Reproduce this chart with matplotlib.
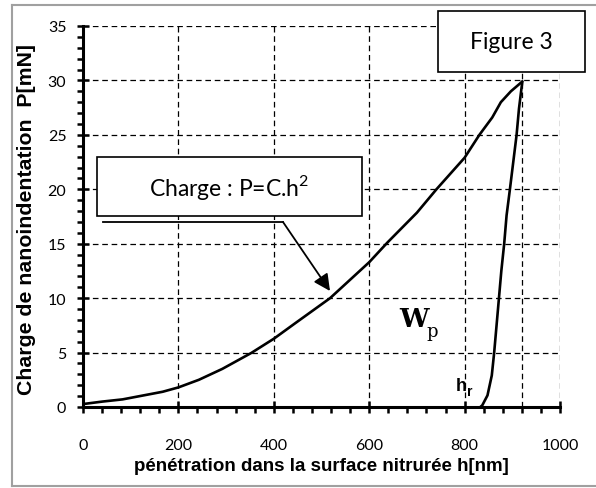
import matplotlib
matplotlib.use("Agg")
import matplotlib.pyplot as plt
from matplotlib.patches import Rectangle, FancyArrowPatch
from matplotlib.lines import Line2D
from matplotlib.ticker import MultipleLocator

plt.rcParams['mathtext.fontset'] = 'custom'
plt.rcParams['mathtext.rm'] = 'Lato'

# Data
load_h = [0, 41, 83, 125, 167, 200, 243, 292, 353, 400, 445, 518, 600, 638, 700, 741, 800, 831, 858, 876, 897, 921]
load_P = [0.27, 0.5, 0.7, 1.05, 1.4, 1.8, 2.5, 3.5, 4.97, 6.27, 7.7, 10.0, 13.3, 15.1, 17.85, 20.0, 22.9, 25.0, 26.6, 28.0, 29.0, 29.9]
unload_h = [921, 914, 909, 902, 895, 888, 883, 877, 872, 867, 862, 857, 848, 837, 833]
unload_P = [29.9, 27.4, 25.0, 22.5, 20.0, 17.6, 15.0, 12.5, 10.0, 7.5, 5.0, 2.9, 1.07, 0.15, 0.0]
h_max = 921
x_ticks = [0, 200, 400, 600, 800, 1000]
y_ticks = [0, 5, 10, 15, 20, 25, 30, 35]

W, H = 596, 489
fig = plt.figure(figsize=(W/100, H/100), dpi=100)
# outer grey frame (left, top, bottom edges)
for xs, ys in [([12, 12], [6, 487]), ([12, 596], [6, 6]), ([12, 596], [487, 487])]:
    fig.add_artist(Line2D([x/W for x in xs], [1-y/H for y in ys], transform=fig.transFigure,
                          color='#a0a0a0', linewidth=1.5))

L, R, T, B = 83, 560, 27, 408
ax = fig.add_axes([L/W, 1-B/H, (R-L)/W, (B-T)/H])
ax.set_xlim(0, 1000)
ax.set_ylim(0, 35)

ax.plot(load_h, load_P, color='black', linewidth=1.9, solid_capstyle='round',
        solid_joinstyle='round', zorder=4)
ax.plot(unload_h, unload_P, color='black', linewidth=1.9, solid_capstyle='round',
        solid_joinstyle='round', zorder=4)

dash = (0, (4.5, 3))
for xv in x_ticks[1:]:
    ax.axvline(xv, color='black', linewidth=0.9, linestyle=dash, zorder=1)
ax.axvline(h_max, color='black', linewidth=0.9, linestyle=dash, zorder=1)
for yv in y_ticks[1:]:
    ax.axhline(yv, color='black', linewidth=0.9, linestyle=dash, zorder=1)

for s in ['top', 'right']:
    ax.spines[s].set_visible(False)
for s in ['left', 'bottom']:
    ax.spines[s].set_linewidth(2.2)
    ax.spines[s].set_zorder(5)

ax.set_xticks(x_ticks)
ax.set_yticks(y_ticks)
ax.xaxis.set_minor_locator(MultipleLocator(40))
ax.yaxis.set_minor_locator(MultipleLocator(1))
ax.tick_params(axis='both', which='major', direction='inout', length=8, width=1.8, labelsize=11.5)
ax.tick_params(axis='both', which='minor', direction='out', length=4, width=1.8)
ax.tick_params(axis='x', which='major', pad=18)
ax.tick_params(axis='y', which='major', pad=8)
for lab in ax.get_xticklabels() + ax.get_yticklabels():
    lab.set_fontfamily('Lato')


def fx(px):
    return (px - L) / (R - L)


def fy(py):
    return (B - py) / (B - T)


ax.set_xlabel('pénétration dans la surface nitrurée h[nm]', fontfamily='Liberation Sans',
              fontweight='bold', fontsize=13.5, labelpad=4)
ax.set_ylabel('Charge de nanoindentation  P[mN]', fontfamily='Liberation Sans',
              fontweight='bold', fontsize=15.3, va='center')
ax.yaxis.set_label_coords(fx(27), fy(220))

# Annotation box "Charge"
x0, x1 = fx(97), fx(362)
y0, y1 = fy(217), fy(158)
ax.add_patch(Rectangle((x0, y0), x1-x0, y1-y0, transform=ax.transAxes, facecolor='white',
                       edgecolor='black', linewidth=1.2, zorder=6, clip_on=False))
ax.text((x0+x1)/2, (y0+y1)/2, 'Charge : P=C.h$^{\\mathrm{2}}$', transform=ax.transAxes,
        ha='center', va='center', fontsize=16.5, fontfamily='Lato', zorder=7)

# Leader line + arrow
ly = fy(223)
lx0, lx1 = fx(103), fx(283)
ax.plot([lx0, lx1], [ly, ly], transform=ax.transAxes, color='black', linewidth=1.3, zorder=6)
ax.add_patch(FancyArrowPatch((lx1, ly), (fx(330), fy(292)), transform=ax.transAxes,
                             arrowstyle='-|>,head_length=10,head_width=5', color='black',
                             linewidth=1.3, shrinkA=0, shrinkB=0, zorder=6))

# "Figure 3" box
gx0, gx1 = fx(438), fx(585)
gy0, gy1 = fy(73), fy(12)
ax.add_patch(Rectangle((gx0, gy0), gx1-gx0, gy1-gy0, transform=ax.transAxes, facecolor='white',
                       edgecolor='black', linewidth=1.2, zorder=6, clip_on=False))
ax.text((gx0+gx1)/2, (gy0+gy1)/2, 'Figure 3', transform=ax.transAxes, ha='center', va='center',
        fontsize=16.5, fontfamily='Lato', zorder=7, clip_on=False)

# W_p
ax.text(662, 8.1, 'W', ha='left', va='center', fontsize=19, fontweight='bold',
        fontfamily='DejaVu Serif', zorder=7)
ax.text(720, 7.0, 'p', ha='left', va='center', fontsize=13, fontfamily='DejaVu Serif', zorder=7)

# h_r
ax.text(782, 2.0, 'h', ha='left', va='center', fontsize=13, fontweight='bold',
        fontfamily='Liberation Sans', zorder=7)
ax.text(806, 1.5, 'r', ha='left', va='center', fontsize=10, fontweight='bold',
        fontfamily='Liberation Sans', zorder=7)

fig.savefig('out.png', dpi=100)
